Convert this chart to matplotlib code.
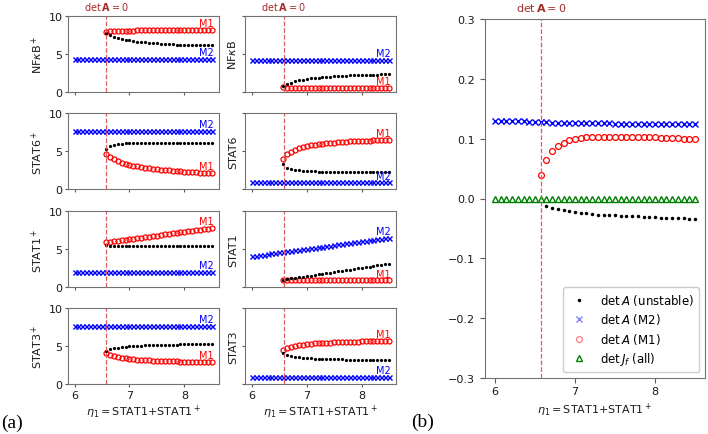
import matplotlib
matplotlib.use("Agg")
import matplotlib.pyplot as plt

# ---------------- data ----------------
eta = [6.000, 6.071, 6.143, 6.214, 6.286, 6.357, 6.429, 6.500, 6.571, 6.643,
       6.714, 6.786, 6.857, 6.929, 7.000, 7.071, 7.143, 7.214, 7.286, 7.357,
       7.429, 7.500, 7.571, 7.643, 7.714, 7.786, 7.857, 7.929, 8.000, 8.071,
       8.143, 8.214, 8.286, 8.357, 8.429, 8.500]
eta_bif = eta[8:]      # branch M1 / unstable branch exists beyond det A = 0
eta_bif_b = eta[9:]
bif_point = 6.58

# panel (a), left column (phosphorylated species)
nfkbp_m2 = [4.3] * 36
nfkbp_m1 = [7.9, 8.0, 8.0, 8.0, 8.05, 8.05, 8.05, 8.05, 8.1, 8.1, 8.1, 8.1, 8.1, 8.1,
            8.1, 8.1, 8.1, 8.1, 8.1, 8.1, 8.1, 8.1, 8.1, 8.1, 8.1, 8.1, 8.1, 8.1]
nfkbp_un = [7.7, 7.45, 7.25, 7.1, 6.95, 6.85, 6.75, 6.67, 6.6, 6.54, 6.48, 6.43, 6.39, 6.35,
            6.32, 6.29, 6.26, 6.23, 6.21, 6.19, 6.17, 6.15, 6.13, 6.12, 6.11, 6.1, 6.09, 6.08]

stat6p_m2 = [7.7] * 36
stat6p_m1 = [4.7, 4.25, 3.95, 3.7, 3.52, 3.38, 3.25, 3.13, 3.02, 2.93, 2.85, 2.78, 2.71, 2.65,
             2.59, 2.54, 2.49, 2.45, 2.41, 2.37, 2.33, 2.29, 2.26, 2.23, 2.2, 2.17, 2.14, 2.12]
stat6p_un = [5.3, 5.65, 5.85, 5.95, 6.0, 6.05, 6.08, 6.1, 6.1, 6.12, 6.12, 6.13, 6.13, 6.14,
             6.14, 6.15, 6.15, 6.15, 6.15, 6.15, 6.15, 6.15, 6.15, 6.15, 6.15, 6.15, 6.15, 6.15]

stat1p_m2 = [2.0] * 36
stat1p_m1 = [5.90, 5.97, 6.04, 6.11, 6.18, 6.25, 6.32, 6.39, 6.46, 6.53, 6.60, 6.67, 6.74, 6.81,
             6.88, 6.95, 7.02, 7.09, 7.16, 7.23, 7.30, 7.37, 7.44, 7.51, 7.58, 7.65, 7.72, 7.79]
stat1p_un = [5.6, 5.5, 5.47, 5.45, 5.45, 5.45, 5.45, 5.45, 5.45, 5.45, 5.45, 5.45, 5.45, 5.45,
             5.45, 5.45, 5.45, 5.45, 5.45, 5.45, 5.45, 5.45, 5.45, 5.45, 5.45, 5.45, 5.45, 5.45]

stat3p_m2 = [7.6] * 36
stat3p_m1 = [4.1, 3.85, 3.7, 3.58, 3.48, 3.4, 3.33, 3.27, 3.22, 3.18, 3.14, 3.1, 3.07, 3.05,
             3.03, 3.01, 3.0, 2.98, 2.97, 2.96, 2.95, 2.94, 2.93, 2.92, 2.91, 2.9, 2.9, 2.9]
stat3p_un = [4.4, 4.6, 4.72, 4.8, 4.87, 4.92, 4.96, 5.0, 5.03, 5.06, 5.08, 5.1, 5.12, 5.14,
             5.15, 5.16, 5.17, 5.18, 5.19, 5.2, 5.2, 5.21, 5.21, 5.22, 5.22, 5.22, 5.23, 5.23]

# panel (a), right column (unphosphorylated species)
nfkb_m2 = [4.2] * 36
nfkb_m1 = [0.6, 0.45, 0.45, 0.45, 0.45, 0.45, 0.45, 0.45, 0.45, 0.45, 0.45, 0.45, 0.45, 0.45,
           0.45, 0.45, 0.45, 0.45, 0.45, 0.45, 0.45, 0.45, 0.45, 0.45, 0.45, 0.45, 0.45, 0.45]
nfkb_un = [0.7, 1.0, 1.2, 1.35, 1.48, 1.58, 1.67, 1.74, 1.8, 1.86, 1.91, 1.95, 1.99, 2.03,
           2.06, 2.09, 2.12, 2.14, 2.16, 2.18, 2.2, 2.22, 2.24, 2.25, 2.26, 2.27, 2.28, 2.3]

stat6_m2 = [0.9] * 36
stat6_m1 = [4.05, 4.6, 4.95, 5.2, 5.4, 5.55, 5.68, 5.78, 5.87, 5.94, 6.0, 6.06, 6.11, 6.15,
            6.19, 6.23, 6.26, 6.29, 6.32, 6.35, 6.38, 6.4, 6.42, 6.44, 6.46, 6.48, 6.5, 6.52]
stat6_un = [3.3, 2.85, 2.65, 2.55, 2.48, 2.43, 2.4, 2.37, 2.35, 2.33, 2.32, 2.31, 2.3, 2.3,
            2.3, 2.3, 2.3, 2.3, 2.3, 2.3, 2.3, 2.3, 2.3, 2.3, 2.3, 2.3, 2.3, 2.3]

stat1_m2 = [4.10, 4.17, 4.24, 4.31, 4.38, 4.45, 4.52, 4.59, 4.66, 4.73, 4.80, 4.87, 4.94, 5.01,
            5.08, 5.15, 5.22, 5.29, 5.36, 5.43, 5.50, 5.57, 5.64, 5.71, 5.78, 5.85, 5.92, 5.99,
            6.06, 6.13, 6.20, 6.27, 6.34, 6.41, 6.48, 6.55]
stat1_m1 = [0.9] * 28
stat1_un = [1.00, 1.08, 1.16, 1.23, 1.31, 1.39, 1.47, 1.54, 1.62, 1.70, 1.78, 1.86, 1.93, 2.01,
            2.09, 2.17, 2.24, 2.32, 2.40, 2.48, 2.56, 2.63, 2.71, 2.79, 2.87, 2.94, 3.02, 3.10]

stat3_m2 = [0.95] * 36
stat3_m1 = [4.5, 4.75, 4.9, 5.0, 5.1, 5.17, 5.23, 5.28, 5.33, 5.37, 5.4, 5.43, 5.46, 5.48,
            5.5, 5.52, 5.54, 5.56, 5.58, 5.59, 5.6, 5.61, 5.62, 5.63, 5.64, 5.65, 5.66, 5.67]
stat3_un = [4.1, 3.85, 3.7, 3.6, 3.52, 3.46, 3.42, 3.38, 3.35, 3.32, 3.3, 3.28, 3.26, 3.25,
            3.24, 3.23, 3.22, 3.21, 3.2, 3.2, 3.19, 3.19, 3.18, 3.18, 3.17, 3.17, 3.16, 3.16]

# panel (b): determinants
det_m2 = [0.130, 0.130, 0.129, 0.129, 0.129, 0.129, 0.128, 0.128, 0.128, 0.128, 0.127, 0.127,
          0.127, 0.127, 0.127, 0.126, 0.126, 0.126, 0.126, 0.126, 0.126, 0.125, 0.125, 0.125,
          0.125, 0.125, 0.125, 0.125, 0.124, 0.124, 0.124, 0.124, 0.124, 0.124, 0.124, 0.124]
det_m1 = [0.040, 0.065, 0.079, 0.087, 0.093, 0.097, 0.099, 0.101, 0.102, 0.103, 0.103, 0.103,
          0.103, 0.103, 0.103, 0.103, 0.103, 0.102, 0.102, 0.102, 0.102, 0.101, 0.101, 0.101,
          0.101, 0.100, 0.100, 0.100]
det_un = [-0.013, -0.016, -0.018, -0.020, -0.021, -0.023, -0.024, -0.025, -0.026, -0.027,
          -0.027, -0.028, -0.028, -0.029, -0.029, -0.030, -0.030, -0.031, -0.031, -0.031,
          -0.032, -0.032, -0.033, -0.033, -0.033, -0.034, -0.034]
det_jf = [0.0] * 36

left_labels = [r'NF$\kappa$B$^+$', r'STAT6$^+$', r'STAT1$^+$', r'STAT3$^+$']
right_labels = [r'NF$\kappa$B', 'STAT6', 'STAT1', 'STAT3']
left_data = [(nfkbp_m2, nfkbp_m1, nfkbp_un), (stat6p_m2, stat6p_m1, stat6p_un),
             (stat1p_m2, stat1p_m1, stat1p_un), (stat3p_m2, stat3p_m1, stat3p_un)]
right_data = [(nfkb_m2, nfkb_m1, nfkb_un), (stat6_m2, stat6_m1, stat6_un),
              (stat1_m2, stat1_m1, stat1_un), (stat3_m2, stat3_m1, stat3_un)]

xlabel = r'$\eta_1=$STAT1+STAT1$^+$'
bif_label = r'$\det\mathbf{A}=0$'

# ---------------- figure ----------------
plt.rcParams['font.family'] = ['DejaVu Sans']
plt.rcParams['mathtext.fontset'] = 'dejavusans'
fig = plt.figure(figsize=(7.08, 4.35), dpi=100)
W, H = 708.0, 435.0

spine_col = '0.45'
dash_col = '#dc5f5f'
bif_col = '#a52a2a'
FS = 8

row_tops = [16.7, 114.3, 212.3, 309.0]
row_h = 76.0
col_lefts = [67.7, 245.0]
col_w = 151.0


def style_axes(ax, length, xpad, ypad):
    for s in ax.spines.values():
        s.set_color(spine_col)
    ax.tick_params(colors='0.35', labelcolor='0.1', labelsize=FS, length=length)
    ax.tick_params(axis='x', pad=xpad)
    ax.tick_params(axis='y', pad=ypad)


for c, (labels, datas) in enumerate([(left_labels, left_data), (right_labels, right_data)]):
    for r in range(4):
        top = row_tops[r]
        ax = fig.add_axes([col_lefts[c] / W, 1 - (top + row_h) / H, col_w / W, row_h / H])
        m2, m1, un = datas[r]
        ax.plot(eta, m2, linestyle='none', marker='x', color='blue', ms=3.6, mew=1.0)
        ax.plot(eta_bif, m1, linestyle='none', marker='o', mfc='none', mec='red', ms=3.6, mew=0.9)
        ax.plot(eta_bif, un, linestyle='none', marker='.', color='black', ms=2.6)
        ax.axvline(bif_point, color=dash_col, ls='--', lw=0.9)
        ax.set_ylim(0, 10)
        ax.set_xticks([6, 7, 8])
        ax.set_yticks([0, 5, 10])
        style_axes(ax, 2.5, 1.5, 1.2)
        if c == 1:
            ax.set_yticklabels([])
        if r < 3:
            ax.set_xticklabels([])
        else:
            ax.set_xlabel(xlabel, fontsize=FS, color='0.1', labelpad=2)
        ax.set_ylabel(labels[r], fontsize=FS, color='0.1', labelpad=2.5 if c == 0 else 1.0)
        ax.text(8.53, m2[-1] + 0.25, 'M2', color='blue', fontsize=7, ha='right', va='bottom')
        ax.text(8.53, m1[-1] + 0.25, 'M1', color='red', fontsize=7, ha='right', va='bottom')
        if r == 0:
            ax.text(bif_point, 1.08, bif_label, transform=ax.get_xaxis_transform(),
                    color=bif_col, fontsize=7, ha='center', va='baseline')

# panel (b)
axb = fig.add_axes([485 / W, 1 - 379 / H, 220 / W, 359 / H])
axb.plot(eta_bif_b, det_un, linestyle='none', marker='.', color='black', ms=3.0,
         label=r'$\det A$ (unstable)')
axb.plot(eta, det_m2, linestyle='none', marker='x', color='blue', ms=4.0, mew=1.0,
         label=r'$\det A$ (M2)')
axb.plot(eta_bif, det_m1, linestyle='none', marker='o', mfc='none', mec='red', ms=4.2, mew=0.9,
         label=r'$\det A$ (M1)')
axb.plot(eta, det_jf, linestyle='none', marker='^', mfc='none', mec='green', ms=3.8, mew=1.0,
         label=r'$\det J_f$ (all)')
axb.axvline(bif_point, color=dash_col, ls='--', lw=0.9)
axb.set_ylim(-0.3, 0.3)
axb.set_xticks([6, 7, 8])
axb.set_yticks([-0.3, -0.2, -0.1, 0.0, 0.1, 0.2, 0.3])
style_axes(axb, 3.5, 2.2, 3.5)
axb.set_xlabel(xlabel, fontsize=FS, color='0.1', labelpad=3.5)
axb.text(bif_point, 1.022, bif_label, transform=axb.get_xaxis_transform(),
         color=bif_col, fontsize=8, ha='center', va='baseline')
leg = axb.legend(loc='lower right', fontsize=8.5, handletextpad=0.8,
                 borderpad=0.4, labelspacing=0.38, framealpha=1.0)
for h in leg.legend_handles[1:3]:
    h.set_alpha(0.5)

fig.text(1 / W, 1 - 428 / H, '(a)', fontsize=14, family='Liberation Serif', ha='left', va='baseline')
fig.text(411 / W, 1 - 427 / H, '(b)', fontsize=14, family='Liberation Serif', ha='left', va='baseline')

fig.savefig('out.png', dpi=100)
